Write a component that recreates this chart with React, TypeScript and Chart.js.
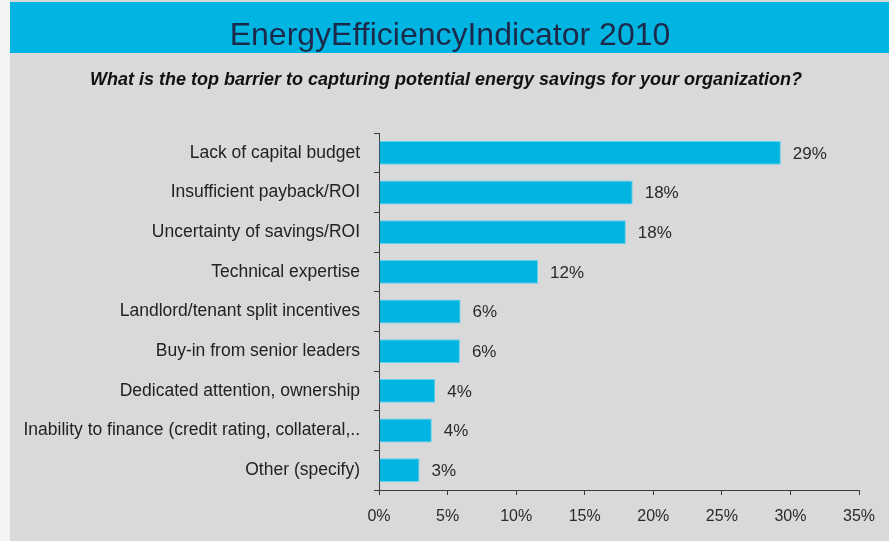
import { useEffect, useRef } from "react";
import { Chart, registerables } from "chart.js";

Chart.register(...registerables);

const TITLE = "EnergyEfficiencyIndicator 2010";
const SUBTITLE =
  "What is the top barrier to capturing potential energy savings for your organization?";

const categories = [
  "Lack of capital budget",
  "Insufficient payback/ROI",
  "Uncertainty of savings/ROI",
  "Technical expertise",
  "Landlord/tenant split incentives",
  "Buy-in from senior leaders",
  "Dedicated attention, ownership",
  "Inability to finance (credit rating, collateral,..",
  "Other (specify)",
];

const values = [29.3, 18.5, 18.0, 11.6, 5.95, 5.9, 4.1, 3.85, 2.95];
const valueLabels = ["29%", "18%", "18%", "12%", "6%", "6%", "4%", "4%", "3%"];

const X_MIN = 0;
const X_MAX = 35;
const X_STEP = 5;

const CYAN = "#00B5E2";

const decorPlugin = {
  id: "decor",
  beforeDraw(chart: any) {
    const ctx = chart.ctx;
    const w = chart.width;
    const h = chart.height;
    ctx.save();
    ctx.fillStyle = "#f4f4f4";
    ctx.fillRect(0, 0, w, h);
    ctx.fillStyle = "#D9D9D9";
    ctx.fillRect(10, 0, w - 10, h);
    ctx.fillStyle = CYAN;
    ctx.fillRect(10, 2, w - 10, 51);
    ctx.fillStyle = "#1B2A4A";
    ctx.font = "32px 'Liberation Sans', Arial, sans-serif";
    ctx.textAlign = "center";
    ctx.textBaseline = "alphabetic";
    ctx.fillText(TITLE, 450, 45);
    ctx.fillStyle = "#111";
    ctx.font = "italic bold 16px 'Liberation Sans', Arial, sans-serif";
    const m = ctx.measureText(SUBTITLE).width;
    const size = (16 * 712) / m;
    ctx.font = `italic bold ${size.toFixed(2)}px 'Liberation Sans', Arial, sans-serif`;
    ctx.fillText(SUBTITLE, 446, 85);
    ctx.restore();
  },
  afterDatasetsDraw(chart: any) {
    const ctx = chart.ctx;
    const meta = chart.getDatasetMeta(0);
    ctx.save();
    ctx.fillStyle = "#2a2a2a";
    ctx.font = "17px 'Liberation Sans', Arial, sans-serif";
    ctx.textAlign = "left";
    ctx.textBaseline = "middle";
    meta.data.forEach((bar: any, i: number) => {
      ctx.fillText(valueLabels[i], bar.x + 12, bar.y + 1);
    });
    ctx.restore();
  },
};

export default function App() {
  const ref = useRef<HTMLCanvasElement>(null);

  useEffect(() => {
    if (!ref.current) return;
    const chart = new Chart(ref.current, {
      type: "bar",
      data: {
        labels: categories,
        datasets: [
          {
            data: values,
            backgroundColor: CYAN,
            borderColor: "#5fd0ee",
            borderWidth: 1,
            categoryPercentage: 1,
            barPercentage: 0.6,
          },
        ],
      },
      options: {
        indexAxis: "y",
        animation: false,
        responsive: false,
        maintainAspectRatio: false,
        layout: { padding: { top: 133, right: 30, left: 0, bottom: 0 } },
        plugins: {
          legend: { display: false },
          tooltip: { enabled: false },
          title: { display: false },
        },
        scales: {
          x: {
            type: "linear",
            min: X_MIN,
            max: X_MAX,
            afterFit: (s: any) => {
              s.height = 51;
            },
            ticks: {
              stepSize: X_STEP,
              padding: 12,
              color: "#2a2a2a",
              font: { size: 16, family: "'Liberation Sans', Arial, sans-serif" },
              callback: (v: any) => `${v}%`,
            },
            grid: {
              display: true,
              drawOnChartArea: false,
              drawTicks: true,
              tickLength: 5,
              color: "#3a3a3a",
            },
            border: { display: true, color: "#3a3a3a", width: 1 },
          },
          y: {
            type: "category",
            afterFit: (s: any) => {
              s.width = 379;
            },
            ticks: {
              padding: 14,
              color: "#222",
              font: { size: 17.5, family: "'Liberation Sans', Arial, sans-serif" },
            },
            grid: {
              display: true,
              offset: true,
              drawOnChartArea: false,
              drawTicks: true,
              tickLength: 5,
              color: "#3a3a3a",
            },
            border: { display: true, color: "#3a3a3a", width: 1 },
          },
        },
      },
      plugins: [decorPlugin],
    });
    return () => chart.destroy();
  }, []);

  return (
    <div style={{ position: "fixed", left: 0, top: 0, width: 889, height: 541 }}>
      <canvas ref={ref} width={889} height={541} />
    </div>
  );
}
